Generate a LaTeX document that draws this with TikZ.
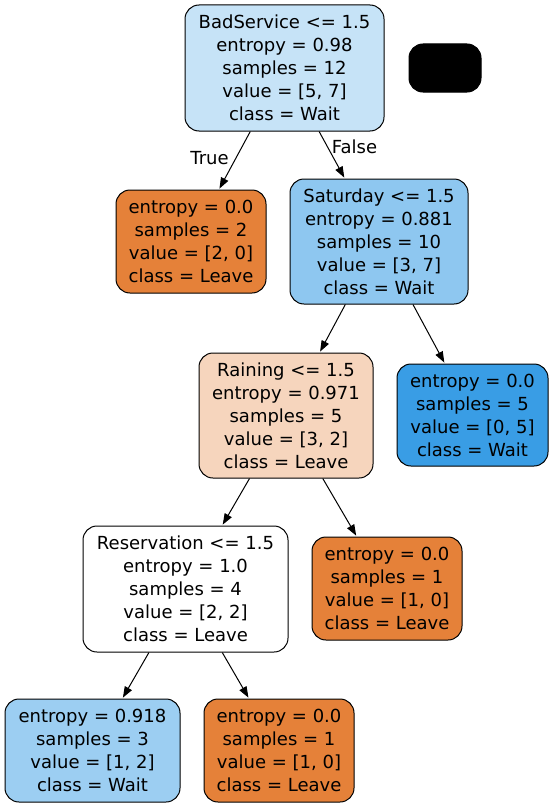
\documentclass[tikz,border=0pt]{standalone}
\usepackage{fontspec}
\setmainfont{DejaVu Sans}
\usetikzlibrary{arrows.meta}
\definecolor{cRoot}{HTML}{C6E3F7}
\definecolor{cSat}{HTML}{8EC7F0}
\definecolor{cRain}{HTML}{F6D5BD}
\definecolor{cOr}{HTML}{E58139}
\definecolor{cBl}{HTML}{399DE5}
\definecolor{cLb}{HTML}{9CCEF2}
\tikzset{
  tn/.style={draw=black, line width=1pt, rounded corners=14pt, inner sep=0pt,
    align=center, font=\fontsize{18}{23}\selectfont},
  edge/.style={line width=1pt, -{Triangle[length=11pt,width=8pt]}, shorten >=1pt},
  lbl/.style={font=\fontsize{18}{23}\selectfont, inner sep=0pt}
}
\begin{document}
\begin{tikzpicture}[x=1pt,y=-1pt]
\useasboundingbox[fill=white] (0,0) rectangle (553,808);
\node[tn, fill=cRoot, minimum width=199pt, minimum height=126pt] (root) at (284.5,68)
  {BadService <= 1.5\\entropy = 0.98\\samples = 12\\value = [5, 7]\\class = Wait};
\node[tn, fill=black, minimum width=72pt, minimum height=48pt] (blk) at (445,68) {};
\node[tn, fill=cOr, minimum width=150pt, minimum height=103pt] (l1) at (191,241.5)
  {entropy = 0.0\\samples = 2\\value = [2, 0]\\class = Leave};
\node[tn, fill=cSat, minimum width=178pt, minimum height=125pt] (sat) at (379,241.5)
  {Saturday <= 1.5\\entropy = 0.881\\samples = 10\\value = [3, 7]\\class = Wait};
\node[tn, fill=cRain, minimum width=174pt, minimum height=125pt] (rain) at (286,415.5)
  {Raining <= 1.5\\entropy = 0.971\\samples = 5\\value = [3, 2]\\class = Leave};
\node[tn, fill=cBl, minimum width=151pt, minimum height=102pt] (w5) at (472.5,415)
  {entropy = 0.0\\samples = 5\\value = [0, 5]\\class = Wait};
\node[tn, fill=white, minimum width=205pt, minimum height=126pt] (res) at (185.5,589)
  {Reservation <= 1.5\\entropy = 1.0\\samples = 4\\value = [2, 2]\\class = Leave};
\node[tn, fill=cOr, minimum width=150pt, minimum height=103pt] (l2) at (387,588.5)
  {entropy = 0.0\\samples = 1\\value = [1, 0]\\class = Leave};
\node[tn, fill=cLb, minimum width=175pt, minimum height=103pt] (w3) at (92.5,750.5)
  {entropy = 0.918\\samples = 3\\value = [1, 2]\\class = Wait};
\node[tn, fill=cOr, minimum width=150pt, minimum height=103pt] (l3) at (279,750.5)
  {entropy = 0.0\\samples = 1\\value = [1, 0]\\class = Leave};
\draw[edge] (root) -- (l1);
\draw[edge] (root) -- (sat);
\draw[edge] (sat) -- (rain);
\draw[edge] (sat) -- (w5);
\draw[edge] (rain) -- (res);
\draw[edge] (rain) -- (l2);
\draw[edge] (res) -- (w3);
\draw[edge] (res) -- (l3);
\node[lbl] (ltrue) at (209.5,158) {True};
\node[lbl] (lfalse) at (354.5,147) {False};
\end{tikzpicture}
\end{document}
